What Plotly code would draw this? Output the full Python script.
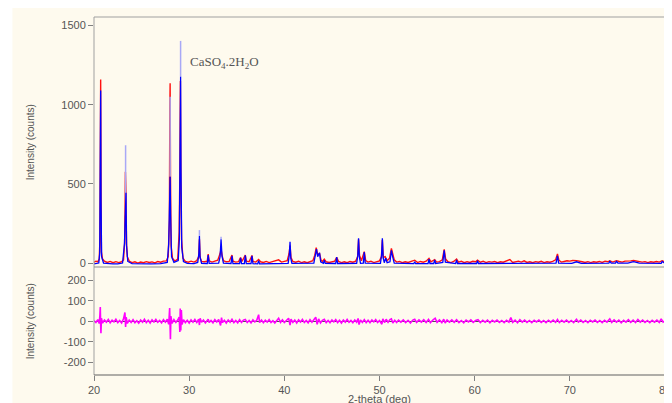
import plotly.graph_objects as go

# ---------------- data ----------------
obs_theta = [
    20.0, 20.2, 20.4, 20.55, 20.62, 20.66, 20.70, 20.74, 20.78, 20.9,
    21.1, 21.4, 21.7, 22.0, 22.3, 22.6, 22.9, 23.1, 23.22, 23.30,
    23.36, 23.42, 23.5, 23.7, 24.0, 24.3, 24.6, 24.9, 25.2, 25.5,
    25.8, 26.1, 26.4, 26.7, 27.0, 27.3, 27.6, 27.8, 27.92, 27.97,
    28.0, 28.04, 28.1, 28.25, 28.5, 28.8, 28.95, 29.02, 29.08, 29.13,
    29.2, 29.35, 29.6, 29.9, 30.2, 30.5, 30.8, 31.0, 31.08, 31.15,
    31.3, 31.6, 31.9, 32.0, 32.1, 32.4, 32.7, 33.0, 33.25, 33.35,
    33.45, 33.6, 33.9, 34.2, 34.5, 34.6, 34.9, 35.2, 35.4, 35.55,
    35.9, 36.0, 36.3, 36.6, 36.7, 37.0, 37.3, 37.5, 37.8, 38.1,
    38.4, 38.7, 39.0, 39.4, 39.7, 40.0, 40.3, 40.5, 40.6, 40.7,
    40.9, 41.2, 41.5, 41.8, 42.1, 42.4, 42.7, 43.0, 43.2, 43.35,
    43.5, 43.7, 43.85, 44.0, 44.2, 44.4, 44.7, 45.0, 45.3, 45.5,
    45.7, 46.0, 46.3, 46.6, 46.9, 47.2, 47.5, 47.7, 47.8, 47.9,
    48.1, 48.4, 48.55, 48.8, 49.1, 49.4, 49.7, 50.0, 50.2, 50.3,
    50.4, 50.6, 50.8, 51.05, 51.25, 51.4, 51.55, 51.8, 52.1, 52.4,
    52.7, 53.0, 53.3, 53.7, 54.0, 54.3, 54.6, 54.9, 55.2, 55.4,
    55.8, 56.0, 56.3, 56.6, 56.8, 56.95, 57.2, 57.5, 57.8, 58.1,
    58.3, 58.6, 58.9, 59.2, 59.5, 59.8, 60.1, 60.3, 60.6, 60.9,
    61.2, 61.5, 61.8, 62.1, 62.4, 62.7, 63.0, 63.4, 63.7, 64.0,
    64.3, 64.6, 64.9, 65.2, 65.5, 65.8, 66.1, 66.4, 66.7, 67.0,
    67.3, 67.6, 67.9, 68.2, 68.5, 68.7, 68.85, 69.1, 69.4, 69.7,
    70.0, 70.3, 70.7, 71.0, 71.3, 71.6, 71.9, 72.2, 72.5, 72.8,
    73.1, 73.4, 73.7, 74.0, 74.2, 74.5, 74.9, 75.2, 75.5, 75.8,
    76.1, 76.4, 76.7, 77.0, 77.3, 77.6, 77.9, 78.2, 78.5, 78.8,
    79.1, 79.4, 79.7, 80.0]
obs_counts = [
    5, 12, 8, 25, 140, 520, 1160, 380, 70, 25,
    12, 4, 10, 2, 9, 3, 8, 20, 130, 576,
    450, 120, 40, 12, 3, 8, 0, 6, 2, 9,
    4, 7, 1, 10, 5, 12, 14, 40, 270, 985,
    1135, 540, 110, 30, 12, 25, 195, 555, 1150, 520,
    150, 30, 10, 5, 12, 6, 15, 40, 150, 35,
    10, 8, 12, 57, 14, 6, 10, 18, 60, 88,
    50, 15, 8, 10, 50, 12, 6, 9, 35, 10,
    50, 12, 8, 48, 10, 6, 22, 8, 4, 10,
    3, 9, 12, 20, 6, 10, 15, 60, 110, 35,
    10, 5, 12, 3, 8, 2, 9, 15, 50, 97,
    55, 60, 20, 10, 25, 8, 4, 9, 12, 36,
    10, 3, 8, 2, 10, 5, 12, 40, 150, 50,
    15, 72, 15, 6, 12, 3, 9, 14, 40, 145,
    35, 40, 15, 30, 92, 45, 20, 6, 10, 2,
    8, 4, 9, 18, 3, 10, 5, 12, 30, 8,
    22, 6, 9, 20, 87, 25, 8, 3, 10, 25,
    6, 12, 2, 9, 4, 11, 8, 18, 5, 12,
    3, 9, 6, 10, 2, 8, 5, 12, 22, 4,
    9, 12, 6, 14, 4, 8, 2, 9, 5, 11,
    3, 8, 5, 10, 20, 57, 18, 6, 10, 14,
    12, 16, 15, 13, 8, 4, 9, 3, 8, 5,
    10, 4, 12, 8, 15, 6, 15, 10, 6, 12,
    15, 14, 16, 13, 10, 6, 9, 3, 8, 5,
    10, 6, 15, 7]

calc_theta = [
    20.0, 20.5, 20.6, 20.66, 20.70, 20.74, 20.8, 21.0, 21.5, 22.0,
    22.5, 23.0, 23.2, 23.3, 23.36, 23.42, 23.55, 24.0, 25.0, 26.0,
    27.0, 27.7, 27.85, 27.95, 28.0, 28.05, 28.15, 28.4, 28.85, 28.97,
    29.05, 29.1, 29.14, 29.22, 29.4, 29.8, 30.5, 30.9, 31.02, 31.08,
    31.14, 31.3, 31.9, 32.0, 32.1, 33.1, 33.25, 33.35, 33.45, 33.6,
    34.4, 34.5, 34.6, 35.3, 35.4, 35.5, 35.8, 35.9, 36.0, 36.5,
    36.6, 36.7, 37.2, 37.3, 37.4, 39.0, 40.4, 40.52, 40.6, 40.68,
    40.8, 43.1, 43.25, 43.38, 43.5, 43.7, 43.82, 44.1, 44.2, 44.3,
    45.4, 45.5, 45.6, 47.6, 47.72, 47.8, 47.88, 48.0, 48.3, 48.4,
    48.5, 50.1, 50.22, 50.3, 50.38, 50.5, 50.65, 50.8, 51.1, 51.25,
    51.38, 51.55, 53.6, 53.7, 53.8, 55.1, 55.2, 55.3, 55.7, 55.8,
    55.9, 56.65, 56.8, 56.92, 58.0, 58.1, 58.2, 60.2, 60.3, 60.4,
    68.55, 68.7, 68.82, 70.2, 70.7, 71.2, 74.1, 74.2, 74.35, 74.8,
    74.9, 75.05, 76.1, 76.7, 77.3, 79.6, 79.7, 80.0]
calc_counts = [
    -5, 0, 60, 500, 1090, 400, 40, 0, -4, -5,
    -5, 0, 120, 300, 444, 110, 10, -4, -6, -5,
    -4, 4, 120, 400, 545, 300, 40, 4, 16, 150,
    700, 1176, 600, 100, 10, -2, -4, 4, 60, 170,
    40, -2, -3, 50, -2, 0, 40, 150, 45, 0,
    -3, 45, -3, -4, 33, -4, -3, 48, -3, -4,
    45, -4, -5, 15, -5, -4, -2, 50, 134, 30,
    -2, 0, 40, 88, 40, 65, 8, -2, 18, -2,
    -3, 38, -3, -2, 50, 156, 40, -2, 0, 70,
    0, -2, 50, 156, 35, 2, 30, 2, 8, 80,
    40, 0, -4, 8, -4, -3, 25, -3, -3, 20,
    -3, 4, 80, 6, -3, 20, -3, -3, 15, -3,
    0, 45, 0, -2, 8, -2, -1, 12, -1, -1,
    12, -1, 0, 9, -1, -2, 10, -3]

# narrow tips of the calculated peaks (drawn lighter in the reference)
tip_theta = [23.32, 28.0, 29.1, 31.08, 33.35]
tip_base = [300, 545, 1176, 170, 150]
tip_top = [744, 1050, 1403, 208, 166]

diff_theta = [
    20.0, 20.2, 20.4, 20.55, 20.62, 20.66, 20.70, 20.73, 20.78, 20.9,
    21.1, 21.3, 21.5, 21.7, 21.9, 22.1, 22.3, 22.5, 22.7, 22.9,
    23.1, 23.25, 23.32, 23.38, 23.5, 23.7, 23.9, 24.1, 24.3, 24.5,
    24.7, 24.9, 25.1, 25.3, 25.5, 25.7, 25.9, 26.1, 26.3, 26.5,
    26.7, 26.9, 27.1, 27.3, 27.5, 27.7, 27.85, 27.95, 28.0, 28.03,
    28.08, 28.2, 28.4, 28.6, 28.8, 28.95, 29.02, 29.06, 29.12, 29.18,
    29.25, 29.4, 29.6, 29.8, 30.0, 30.2, 30.4, 30.6, 30.8, 31.0,
    31.08, 31.15, 31.3, 31.5, 31.7, 31.9, 32.0, 32.1, 32.3, 32.5,
    32.7, 32.9, 33.1, 33.3, 33.4, 33.5, 33.7, 33.9, 34.1, 34.3,
    34.5, 34.7, 34.9, 35.1, 35.3, 35.5, 35.7, 35.9, 36.1, 36.3,
    36.5, 36.7, 36.9, 37.1, 37.3, 37.4, 37.6, 37.8, 38.0, 38.2,
    38.4, 38.6, 38.8, 39.0, 39.2, 39.4, 39.6, 39.8, 40.0, 40.2,
    40.45, 40.6, 40.7, 40.9, 41.1, 41.3, 41.5, 41.7, 41.9, 42.1,
    42.3, 42.5, 42.7, 42.9, 43.1, 43.3, 43.45, 43.6, 43.8, 44.0,
    44.2, 44.4, 44.6, 44.8, 45.0, 45.2, 45.4, 45.6, 45.8, 46.0,
    46.2, 46.4, 46.6, 46.8, 47.0, 47.2, 47.4, 47.6, 47.75, 47.85,
    48.0, 48.2, 48.4, 48.6, 48.8, 49.0, 49.2, 49.4, 49.6, 49.8,
    50.0, 50.25, 50.35, 50.55, 50.7, 50.9, 51.1, 51.25, 51.4, 51.6,
    51.8, 52.0, 52.25, 52.5, 52.75, 53.0, 53.25, 53.5, 53.7, 53.9,
    54.15, 54.4, 54.65, 54.9, 55.15, 55.35, 55.6, 55.85, 56.05, 56.3,
    56.55, 56.75, 56.9, 57.1, 57.35, 57.6, 57.85, 58.1, 58.35, 58.6,
    58.85, 59.1, 59.35, 59.6, 59.85, 60.1, 60.35, 60.6, 60.85, 61.1,
    61.35, 61.6, 61.85, 62.1, 62.35, 62.6, 62.85, 63.1, 63.35, 63.6,
    63.8, 64.0, 64.25, 64.5, 64.75, 65.0, 65.25, 65.5, 65.75, 66.0,
    66.25, 66.5, 66.75, 67.0, 67.25, 67.5, 67.75, 68.0, 68.25, 68.5,
    68.7, 68.9, 69.15, 69.4, 69.65, 69.9, 70.15, 70.4, 70.7, 70.9,
    71.15, 71.4, 71.65, 71.9, 72.15, 72.4, 72.65, 72.9, 73.15, 73.4,
    73.65, 73.9, 74.2, 74.4, 74.65, 74.9, 75.15, 75.4, 75.65, 75.9,
    76.15, 76.4, 76.65, 76.9, 77.15, 77.4, 77.65, 77.9, 78.15, 78.4,
    78.65, 78.9, 79.15, 79.4, 79.6, 79.8, 80.0]
diff_counts = [
    3, -6, 8, -10, 30, 69, -20, -58, 15, -8,
    6, -4, 9, -7, 5, -3, 10, -6, 4, -8,
    12, 43, -27, 20, -10, 6, -5, 8, -7, 3,
    -9, 6, -4, 10, -6, 5, -8, 7, -3, 9,
    -5, 4, -7, 8, -4, 10, -15, 64, -30, -87,
    25, -10, 8, -5, 6, 20, -52, 62, -45, 55,
    -15, 8, -6, 5, -8, 7, -4, 9, -6, 10,
    -18, 15, -5, 6, -8, 5, 10, -6, 4, -7,
    8, -3, 9, -20, 18, -6, 5, -8, 6, -4,
    10, -6, 4, -7, 8, -5, 6, 9, -6, 4,
    -8, 7, -3, 5, 32, -6, 6, -7, 5, -4,
    8, -6, 3, -8, 6, 15, -5, 7, -6, 5,
    15, -18, 10, -5, 6, -8, 7, -3, 9, -6,
    4, -7, 8, -4, 6, 20, -15, 12, -8, 5,
    10, -6, 4, -7, 6, -3, 8, -6, 5, -8,
    6, -4, 9, -5, 4, -7, 6, -4, 14, -16,
    6, -5, 8, -6, 5, -7, 6, -3, 8, -6,
    4, -14, 12, -6, 10, -5, 8, 12, -8, 5,
    -6, 6, -4, 7, -6, 5, -8, 6, 10, -5,
    7, -4, 8, -6, 9, -7, 6, 15, -5, 7,
    -6, 10, -8, 6, -4, 7, -5, 8, -6, 4,
    -7, 6, -3, 7, -5, 4, 8, -6, 5, -4,
    6, -7, 5, -3, 6, -5, 4, -6, 5, -4,
    18, -5, 6, -7, 8, -4, 6, -5, 4, -6,
    5, -3, 6, -5, 4, -6, 5, -4, 6, -5,
    9, -6, 5, -4, 6, -5, 4, -6, 10, -4,
    6, -5, 4, -6, 5, -3, 6, -5, 4, -6,
    5, -4, 12, -5, 7, -4, 6, -7, 5, -4,
    8, -5, 6, -6, 9, -4, 6, -5, 4, -6,
    5, -4, 6, -5, 12, -4, 3]

x_ticks = [20, 30, 40, 50, 60, 70, 80]
top_ticks = [0, 500, 1000, 1500]
diff_ticks = [-200, -100, 0, 100, 200]
diff_tick_text = ["-200", "-100", "0", "100", "200"]

# ---------------- figure ----------------
CREAM = "#fefaee"
TICKFONT = dict(family="Arial, Liberation Sans, sans-serif", size=11, color="#555555")
split = 108 / 358

fig = go.Figure()
fig.add_trace(go.Scatter(x=obs_theta, y=obs_counts, mode="lines", xaxis="x", yaxis="y",
                         line=dict(color="#ff1010", width=1.4), name="Observed"))
tip_x, tip_y = [], []
for t, lo, hi in zip(tip_theta, tip_base, tip_top):
    tip_x += [t, t, None]
    tip_y += [lo, hi, None]
fig.add_trace(go.Scatter(x=tip_x, y=tip_y, mode="lines", xaxis="x", yaxis="y",
                         line=dict(color="#a8a8f6", width=1.5), name="Calculated tip"))
fig.add_trace(go.Scatter(x=calc_theta, y=calc_counts, mode="lines", xaxis="x", yaxis="y",
                         line=dict(color="#0000ff", width=1.3), name="Calculated"))
fig.add_trace(go.Scatter(x=diff_theta, y=diff_counts, mode="lines", xaxis="x", yaxis="y2",
                         line=dict(color="#ff00ff", width=1.6), name="Difference"))

axis_common = dict(showgrid=False, showline=False, ticks="outside", ticklen=5,
                   tickcolor="#808080", tickwidth=1, tickfont=TICKFONT)

fig.update_layout(
    width=672, height=403,
    margin=dict(l=86, r=12, t=9, b=36),
    paper_bgcolor="white", plot_bgcolor=CREAM,
    showlegend=False,
    xaxis=dict(domain=[0, 1], range=[20, 80], anchor="y2", tickvals=x_ticks,
               zeroline=False, **axis_common),
    yaxis=dict(domain=[split, 1], range=[-25, 1554], anchor="x", tickvals=top_ticks,
               zeroline=False, **axis_common),
    yaxis2=dict(domain=[0, split], range=[-260, 263], anchor="x", tickvals=diff_ticks,
                ticktext=diff_tick_text, zeroline=True, zerolinecolor="#505050",
                zerolinewidth=1, **axis_common),
    shapes=[
        dict(type="rect", xref="paper", yref="paper", x0=-0.1429, x1=1.05, y0=-0.2, y1=1.03,
             fillcolor=CREAM, line=dict(width=0), layer="below"),
        # top panel frame
        dict(type="line", xref="paper", yref="paper", x0=0, x1=0, y0=split, y1=1,
             line=dict(color="#a0a0a0", width=1)),
        dict(type="line", xref="paper", yref="paper", x0=0, x1=1, y0=1, y1=1,
             line=dict(color="#a0a0a0", width=1)),
        dict(type="line", xref="paper", yref="paper", x0=1, x1=1, y0=split, y1=1,
             line=dict(color="#707070", width=1)),
        dict(type="line", xref="paper", yref="paper", x0=0, x1=1, y0=split, y1=split,
             line=dict(color="#8c8c8c", width=1)),
        # bottom panel frame
        dict(type="line", xref="paper", yref="paper", x0=0, x1=0, y0=0, y1=split,
             line=dict(color="#a0a0a0", width=1)),
        dict(type="line", xref="paper", yref="paper", x0=1, x1=1, y0=0, y1=split,
             line=dict(color="#707070", width=1)),
        dict(type="line", xref="paper", yref="paper", x0=0, x1=1, y0=0, y1=0,
             line=dict(color="#606060", width=1)),
    ],
    annotations=[
        dict(text="Intensity (counts)", xref="paper", yref="paper", x=-0.1115, y=(split + 1) / 2,
             textangle=-90, showarrow=False, xanchor="center", yanchor="middle",
             font=dict(family="Arial, Liberation Sans, sans-serif", size=10, color="#555555")),
        dict(text="Intensity (counts)", xref="paper", yref="paper", x=-0.1115, y=split / 2,
             textangle=-90, showarrow=False, xanchor="center", yanchor="middle",
             font=dict(family="Arial, Liberation Sans, sans-serif", size=10, color="#555555")),
        dict(text="2-theta (deg)", xref="paper", yref="paper", x=0.5, y=-0.066,
             showarrow=False, xanchor="center", yanchor="middle",
             font=dict(family="Arial, Liberation Sans, sans-serif", size=11, color="#555555")),
        dict(text="CaSO<sub>4</sub>.2H<sub>2</sub>O", xref="x", yref="y", x=29.9, y=1269,
             showarrow=False, xanchor="left", yanchor="middle",
             font=dict(family="Liberation Serif, Times New Roman, serif", size=13, color="#555555")),
    ],
)

fig.write_html("out.html")
